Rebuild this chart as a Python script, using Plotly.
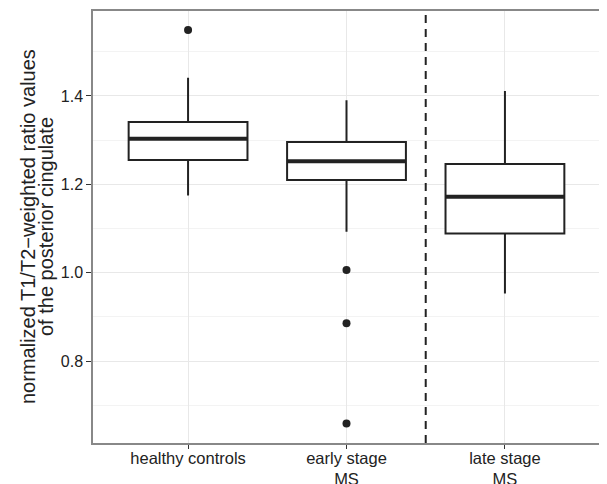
import plotly.graph_objects as go

# ---- data ----
groups = ["healthy controls", "early stage<br>MS", "late stage<br>MS"]
group_pos = [1, 2, 3]
q1 = [1.255, 1.210, 1.089]
median = [1.303, 1.252, 1.172]
q3 = [1.341, 1.296, 1.246]
lower_whisker = [1.175, 1.093, 0.953]
upper_whisker = [1.441, 1.390, 1.411]
outlier_group = [1, 2, 2, 2]
outlier_values = [1.549, 1.006, 0.886, 0.659]
divider_position = 2.5
box_width = 0.75
y_title_lines = ["normalized T1/T2\u2212weighted ratio values", "of the posterior cingulate"]

ink = "#222222"
fig = go.Figure()

fig.add_trace(go.Box(
    x=group_pos, q1=q1, median=median, q3=q3,
    lowerfence=lower_whisker, upperfence=upper_whisker,
    width=box_width, fillcolor="white",
    line=dict(color=ink, width=2), whiskerwidth=0,
    showlegend=False, hoverinfo="skip",
))

# thicker median lines
for p, m in zip(group_pos, median):
    fig.add_trace(go.Scatter(
        x=[p - box_width / 2, p + box_width / 2], y=[m, m], mode="lines",
        line=dict(color=ink, width=4), showlegend=False, hoverinfo="skip",
    ))

fig.add_trace(go.Scatter(
    x=outlier_group, y=outlier_values, mode="markers",
    marker=dict(color=ink, size=8), showlegend=False, hoverinfo="skip",
))

fig.add_shape(type="line", xref="x", yref="paper", x0=divider_position, x1=divider_position,
              y0=0, y1=1, line=dict(color=ink, width=2, dash="8px,6px"), layer="above")

for i, txt in enumerate(y_title_lines):
    fig.add_annotation(text=txt, xref="paper", yref="paper", x=0, y=0.5,
                       xanchor="center", yanchor="middle", textangle=-90,
                       xshift=-65 + 18 * i, showarrow=False,
                       font=dict(size=20, color=ink, family="Liberation Sans, Arial, sans-serif"))

# the page body has an 8px default margin, so margins are offset to compensate
fig.update_layout(
    width=607, height=484,
    margin=dict(l=85, r=15, t=3, b=49),
    plot_bgcolor="white", paper_bgcolor="white",
    font=dict(family="Liberation Sans, Arial, sans-serif", color=ink, size=16),
)
fig.update_xaxes(
    range=[0.4, 3.6], tickmode="array", tickvals=group_pos, ticktext=groups,
    showgrid=True, gridcolor="#E8E8E8", gridwidth=1, automargin=False,
    ticks="outside", ticklen=4, tickcolor="#333333", tickfont=dict(size=16.5, color=ink),
    ticklabelstandoff=-5,
    showline=True, linecolor="#888888", linewidth=1.5, mirror=True, zeroline=False,
)
fig.update_yaxes(
    range=[0.615, 1.592], tickmode="array", tickvals=[0.8, 1.0, 1.2, 1.4],
    ticktext=["0.8", "1.0", "1.2", "1.4"], automargin=False,
    showgrid=True, gridcolor="#E8E8E8", gridwidth=1,
    minor=dict(tickvals=[0.7, 0.9, 1.1, 1.3, 1.5], showgrid=True, gridcolor="#F3F3F3", gridwidth=1),
    ticks="outside", ticklen=5, tickcolor="#333333", tickfont=dict(size=16, color=ink),
    showline=True, linecolor="#888888", linewidth=1.5, mirror=True, zeroline=False,
)

fig.write_html("out.html")
